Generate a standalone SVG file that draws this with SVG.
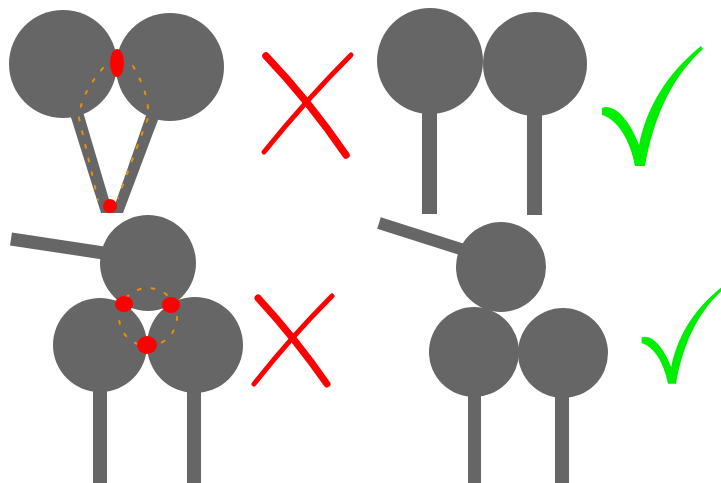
<svg xmlns="http://www.w3.org/2000/svg" width="721" height="483" viewBox="0 0 721 483">
<defs>
<style>
.g{fill:#666666}
.st{stroke:#666666;stroke-linecap:butt;fill:none}
.red{fill:#ff0000}
.dash{fill:none;stroke:#e8900a;stroke-width:2;stroke-dasharray:3 11;stroke-linecap:round}
.x{fill:none;stroke:#ff0000;stroke-linecap:round}
.chk{fill:#00ee00}
</style>
<path id="check" d="M602,108 C613,103 629,118 639,145 C646,110 665,75 701,46 L703,49 C673,76 654,115 645,166 L635,166 C630,140 618,120 602,115 Z"/>
</defs>
<g id="wrong-top">
<polygon class="g" points="65.5,100 79.5,100 113,213 101,213"/>
<polygon class="g" points="151.5,100 165.5,100 123,213 112,213"/>
<circle class="g" cx="63" cy="64" r="54"/>
<circle class="g" cx="170" cy="67" r="54"/>
<path class="dash" d="M103,68 Q80,95 79,118 L98,200"/>
<path class="dash" d="M133,66 Q150,95 148,118 L118,198"/>
<ellipse class="red" cx="117" cy="63" rx="7" ry="14"/>
<ellipse class="red" cx="110" cy="206" rx="7" ry="7"/>
</g>
<g id="x-top">
<path class="x" stroke-width="7.5" d="M266,56 Q309,101 346,155"/>
<path class="x" stroke-width="5" d="M351,55 Q306,100 264,152"/>
</g>
<g id="right-top">
<rect class="g" x="422" y="100" width="15" height="114"/>
<rect class="g" x="527" y="100" width="15" height="115"/>
<circle class="g" cx="430" cy="61" r="53"/>
<circle class="g" cx="535" cy="64" r="52"/>
</g>
<use id="check-top" href="#check" class="chk"/>
<g id="wrong-bottom">
<line class="st" stroke-width="13" x1="11" y1="239" x2="110" y2="254"/>
<circle class="g" cx="148" cy="263" r="48"/>
<rect class="g" x="93" y="380" width="14" height="103"/>
<rect class="g" x="187" y="380" width="14" height="103"/>
<circle class="g" cx="100" cy="345" r="47"/>
<circle class="g" cx="195" cy="345" r="48"/>
<circle class="dash" cx="148" cy="317" r="29"/>
<ellipse class="red" cx="124" cy="304" rx="9" ry="8"/>
<ellipse class="red" cx="171" cy="305" rx="9" ry="8"/>
<ellipse class="red" cx="147" cy="345" rx="10" ry="9"/>
</g>
<g id="x-bottom">
<path class="x" stroke-width="7" d="M258,298 Q295,338 327,384"/>
<path class="x" stroke-width="5" d="M332,296 Q291,337 254,384"/>
</g>
<g id="right-bottom">
<line class="st" stroke-width="12" x1="379" y1="223" x2="470" y2="252"/>
<circle class="g" cx="501" cy="267" r="45"/>
<rect class="g" x="468" y="385" width="13" height="98"/>
<rect class="g" x="555" y="385" width="14" height="98"/>
<circle class="g" cx="474" cy="352" r="45"/>
<circle class="g" cx="563" cy="353" r="45"/>
</g>
<use id="check-bottom" href="#check" class="chk" transform="translate(672,383) scale(0.8) translate(-640,-165)"/>
</svg>
